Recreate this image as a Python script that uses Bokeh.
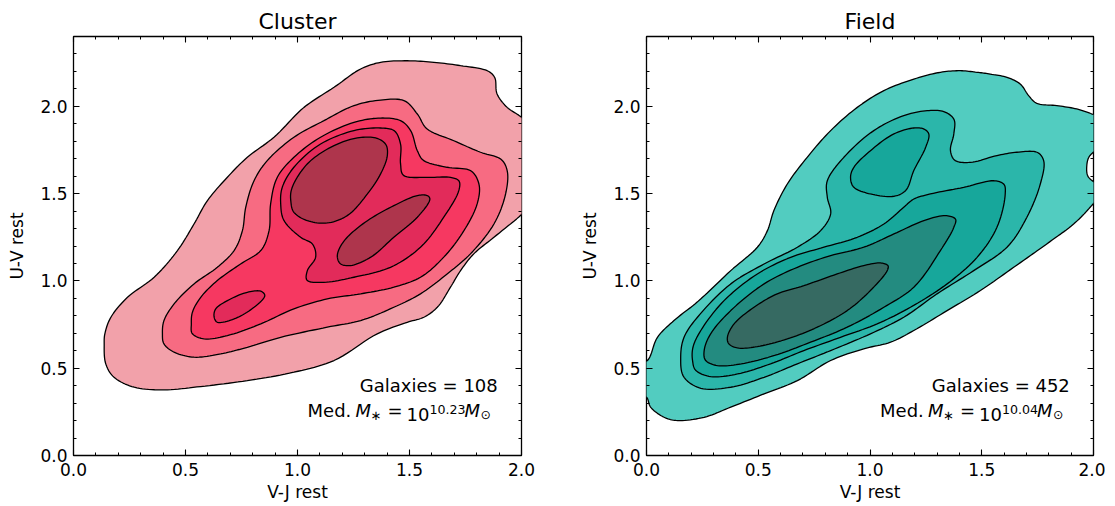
import numpy as np
from bokeh.plotting import figure
from bokeh.layouts import row
from bokeh.models import Label, LinearAxis, FixedTicker, Range1d
from bokeh.embed import file_html
from bokeh.resources import INLINE

# ---------------- data (V-J rest, U-V rest) ----------------
x_ticks = [0.0, 0.5, 1.0, 1.5, 2.0]
x_tick_labels = ["0.0", "0.5", "1.0", "1.5", "2.0"]
y_ticks = [0.0, 0.5, 1.0, 1.5, 2.0]
y_tick_labels = ["0.0", "0.5", "1.0", "1.5", "2.0"]

titles = ["Cluster", "Field"]
n_galaxies = [108, 452]
med_mass_exp = ["10.23", "10.04"]

# Cluster KDE contour outlines (lowest level first)
c1_x = [0.137, 0.144, 0.181, 0.271, 0.404, 0.568, 0.776, 0.984, 1.163, 1.356, 1.490, 1.564, 1.624, 1.683, 1.728, 1.787, 1.877, 2.0, 2.06, 2.06, 2.0, 1.936, 1.891, 1.880, 1.847, 1.728, 1.609, 1.490, 1.371, 1.282, 1.163, 1.029, 0.895, 0.776, 0.687, 0.598, 0.538, 0.464, 0.360, 0.241, 0.167, 0.140]
c1_y = [0.639, 0.525, 0.448, 0.391, 0.376, 0.395, 0.429, 0.477, 0.544, 0.697, 0.763, 0.792, 0.849, 0.964, 1.059, 1.155, 1.250, 1.380, 1.46, 1.85, 1.937, 1.994, 2.071, 2.166, 2.204, 2.233, 2.252, 2.261, 2.252, 2.214, 2.109, 1.994, 1.823, 1.708, 1.594, 1.460, 1.326, 1.174, 1.021, 0.906, 0.792, 0.697]

c2_x = [0.397, 0.404, 0.449, 0.538, 0.657, 0.776, 0.925, 1.133, 1.282, 1.430, 1.549, 1.668, 1.772, 1.877, 1.929, 1.936, 1.907, 1.817, 1.698, 1.579, 1.535, 1.475, 1.371, 1.252, 1.118, 0.984, 0.865, 0.806, 0.769, 0.754, 0.717, 0.642, 0.538, 0.449, 0.404]
c2_y = [0.697, 0.639, 0.592, 0.563, 0.582, 0.620, 0.677, 0.735, 0.773, 0.849, 0.926, 1.040, 1.155, 1.326, 1.498, 1.632, 1.698, 1.737, 1.803, 1.870, 1.956, 2.033, 2.036, 2.004, 1.918, 1.823, 1.689, 1.574, 1.422, 1.288, 1.174, 1.078, 0.983, 0.868, 0.773]

c3_x = [0.526, 0.531, 0.583, 0.687, 0.836, 0.984, 1.133, 1.282, 1.430, 1.549, 1.653, 1.743, 1.802, 1.810, 1.772, 1.668, 1.564, 1.535, 1.505, 1.460, 1.371, 1.252, 1.103, 0.984, 0.910, 0.880, 0.873, 0.836, 0.746, 0.642, 0.568, 0.531]
c3_y = [0.754, 0.697, 0.668, 0.687, 0.754, 0.840, 0.897, 0.926, 0.964, 1.021, 1.136, 1.288, 1.441, 1.555, 1.632, 1.651, 1.689, 1.746, 1.861, 1.918, 1.933, 1.908, 1.823, 1.708, 1.594, 1.441, 1.288, 1.174, 1.097, 1.002, 0.906, 0.821]

c4a_x = [0.925, 0.940, 1.014, 1.066, 1.081, 1.044, 1.044, 1.118, 1.252, 1.415, 1.549, 1.653, 1.720, 1.720, 1.683, 1.579, 1.475, 1.460, 1.460, 1.431, 1.371, 1.252, 1.103, 0.984, 0.932]
c4a_y = [1.441, 1.345, 1.250, 1.212, 1.136, 1.059, 1.002, 0.992, 1.021, 1.078, 1.193, 1.365, 1.517, 1.574, 1.593, 1.593, 1.603, 1.670, 1.784, 1.861, 1.876, 1.861, 1.784, 1.651, 1.536]

c4b_x = [0.628, 0.643, 0.717, 0.806, 0.854, 0.836, 0.776, 0.687, 0.635]
c4b_y = [0.792, 0.763, 0.782, 0.849, 0.916, 0.941, 0.935, 0.887, 0.840]

c5a_x = [0.970, 0.984, 1.044, 1.133, 1.222, 1.312, 1.371, 1.401, 1.393, 1.349, 1.267, 1.163, 1.059, 0.999, 0.972]
c5a_y = [1.460, 1.393, 1.345, 1.332, 1.374, 1.498, 1.613, 1.718, 1.784, 1.819, 1.819, 1.775, 1.689, 1.594, 1.517]

c5b_x = [1.178, 1.193, 1.237, 1.327, 1.430, 1.535, 1.591, 1.579, 1.535, 1.430, 1.312, 1.222, 1.186]
c5b_y = [1.136, 1.097, 1.088, 1.136, 1.250, 1.365, 1.469, 1.489, 1.489, 1.431, 1.345, 1.250, 1.183]

# Field KDE contour outlines (lowest level first)
f1_x = [-0.04, -0.04, 0.0, 0.019, 0.079, 0.139, 0.258, 0.377, 0.526, 0.675, 0.824, 0.972, 1.092, 1.196, 1.345, 1.494, 1.643, 1.791, 1.911, 1.985, 2.03, 2.01, 1.975, 1.970, 1.980, 2.01, 2.05, 2.05, 1.994, 1.925, 1.836, 1.747, 1.710, 1.672, 1.613, 1.538, 1.479, 1.404, 1.315, 1.196, 1.062, 0.943, 0.824, 0.719, 0.630, 0.570, 0.541, 0.496, 0.377, 0.228, 0.123, 0.049, 0.004]
f1_y = [0.52, 0.36, 0.334, 0.276, 0.219, 0.200, 0.219, 0.277, 0.353, 0.429, 0.544, 0.611, 0.649, 0.716, 0.830, 0.945, 1.078, 1.212, 1.326, 1.422, 1.50, 1.555, 1.60, 1.66, 1.71, 1.75, 1.80, 1.93, 1.956, 1.985, 2.004, 2.017, 2.061, 2.128, 2.166, 2.185, 2.195, 2.204, 2.195, 2.156, 2.090, 1.994, 1.861, 1.708, 1.555, 1.403, 1.288, 1.193, 1.059, 0.880, 0.773, 0.677, 0.544]

f2_x = [0.153, 0.168, 0.243, 0.377, 0.526, 0.675, 0.824, 1.002, 1.151, 1.300, 1.464, 1.613, 1.702, 1.762, 1.777, 1.747, 1.657, 1.568, 1.449, 1.382, 1.360, 1.375, 1.375, 1.330, 1.256, 1.151, 1.017, 0.883, 0.809, 0.809, 0.824, 0.779, 0.675, 0.526, 0.377, 0.228, 0.168]
f2_y = [0.563, 0.448, 0.385, 0.391, 0.448, 0.525, 0.601, 0.697, 0.792, 0.926, 1.059, 1.193, 1.365, 1.555, 1.689, 1.737, 1.737, 1.718, 1.679, 1.689, 1.746, 1.842, 1.927, 1.970, 1.975, 1.947, 1.861, 1.708, 1.574, 1.479, 1.384, 1.288, 1.193, 1.097, 0.983, 0.792, 0.677]

f3a_x = [0.206, 0.221, 0.287, 0.407, 0.555, 0.704, 0.868, 1.032, 1.181, 1.345, 1.479, 1.568, 1.605, 1.598, 1.553, 1.419, 1.270, 1.196, 1.151, 1.062, 0.943, 0.794, 0.645, 0.496, 0.347, 0.243, 0.208]
f3a_y = [0.544, 0.487, 0.452, 0.467, 0.525, 0.601, 0.677, 0.754, 0.849, 0.983, 1.135, 1.307, 1.498, 1.555, 1.574, 1.536, 1.498, 1.469, 1.422, 1.326, 1.250, 1.193, 1.135, 1.040, 0.887, 0.716, 0.620]

f3b_x = [0.913, 0.928, 1.002, 1.107, 1.159, 1.196, 1.249, 1.263, 1.241, 1.196, 1.107, 1.002, 0.928]
f3b_y = [1.594, 1.536, 1.498, 1.485, 1.517, 1.632, 1.765, 1.842, 1.870, 1.876, 1.842, 1.746, 1.651]

f4_x = [0.258, 0.265, 0.317, 0.424, 0.573, 0.734, 0.898, 1.062, 1.196, 1.315, 1.375, 1.382, 1.337, 1.241, 1.107, 0.972, 0.824, 0.675, 0.526, 0.377, 0.287]
f4_y = [0.601, 0.544, 0.515, 0.525, 0.573, 0.649, 0.735, 0.849, 0.964, 1.174, 1.307, 1.355, 1.374, 1.345, 1.269, 1.193, 1.145, 1.078, 0.983, 0.830, 0.697]

f5_x = [0.362, 0.369, 0.407, 0.496, 0.630, 0.764, 0.898, 1.002, 1.077, 1.080, 1.047, 0.972, 0.853, 0.704, 0.585, 0.481, 0.392]
f5_y = [0.677, 0.639, 0.616, 0.624, 0.668, 0.735, 0.830, 0.945, 1.059, 1.088, 1.103, 1.088, 1.040, 0.973, 0.926, 0.849, 0.754]

cluster_levels = [[(c1_x, c1_y)], [(c2_x, c2_y)], [(c3_x, c3_y)],
                  [(c4a_x, c4a_y), (c4b_x, c4b_y)], [(c5a_x, c5a_y), (c5b_x, c5b_y)]]
cluster_colors = ["#f2a1aa", "#f76b82", "#f63861", "#e22b5a", "#ae354c"]

field_levels = [[(f1_x, f1_y)], [(f2_x, f2_y)], [(f3a_x, f3a_y), (f3b_x, f3b_y)],
                [(f4_x, f4_y)], [(f5_x, f5_y)]]
field_colors = ["#52ccc0", "#2bb6aa", "#17a79b", "#238b80", "#366a62"]

FONT = "DejaVu Sans"


def smooth_closed(xs, ys, n=10):
    """Draw a closed outline as a smooth curve through the traced points."""
    P = np.column_stack([xs, ys]).astype(float)
    N = len(P)
    out = []
    for i in range(N):
        p0, p1, p2, p3 = P[(i - 1) % N], P[i], P[(i + 1) % N], P[(i + 2) % N]

        def tj(ti, a, b):
            return ti + np.linalg.norm(b - a) ** 0.5 + 1e-9
        t0 = 0.0
        t1 = tj(t0, p0, p1)
        t2 = tj(t1, p1, p2)
        t3 = tj(t2, p2, p3)
        t = np.linspace(t1, t2, n, endpoint=False)[:, None]
        A1 = (t1 - t) / (t1 - t0) * p0 + (t - t0) / (t1 - t0) * p1
        A2 = (t2 - t) / (t2 - t1) * p1 + (t - t1) / (t2 - t1) * p2
        A3 = (t3 - t) / (t3 - t2) * p2 + (t - t2) / (t3 - t2) * p3
        B1 = (t2 - t) / (t2 - t0) * A1 + (t - t0) / (t2 - t0) * A2
        B2 = (t3 - t) / (t3 - t1) * A2 + (t - t1) / (t3 - t1) * A3
        out.append((t2 - t) / (t2 - t1) * B1 + (t - t1) / (t2 - t1) * B2)
    C = np.vstack(out)
    return list(C[:, 0]), list(C[:, 1])


def make_panel(title, levels, colors, ngal, mexp, frame_w, border_right):
    p = figure(frame_width=frame_w, frame_height=419, x_range=Range1d(0, 2), y_range=Range1d(0, 2.4),
               output_backend="svg", toolbar_location=None, title=title,
               min_border_left=73, min_border_right=border_right,
               min_border_top=36, min_border_bottom=50)
    p.title.align = "center"
    p.title.text_font = FONT
    p.title.text_font_size = "22px"
    p.title.text_font_style = "normal"
    p.title.text_color = "black"
    p.title.standoff = 5
    p.grid.visible = False
    p.outline_line_color = "black"
    p.outline_line_width = 1.3
    p.background_fill_color = "white"
    p.border_fill_color = "white"

    for polys, col in zip(levels, colors):
        xs, ys = [], []
        for (px, py) in polys:
            sx, sy = smooth_closed(px, py)
            xs.append(sx)
            ys.append(sy)
        p.patches(xs, ys, fill_color=col, line_color="black", line_width=1.3)

    minor = [round(v * 0.1, 1) for v in range(0, 25)]
    xt = FixedTicker(ticks=x_ticks, minor_ticks=minor)
    yt = FixedTicker(ticks=y_ticks, minor_ticks=minor)

    p.add_layout(LinearAxis(), "above")
    p.add_layout(LinearAxis(), "right")
    for ax in p.axis:
        ax.axis_line_color = None
        ax.major_tick_in = 6
        ax.major_tick_out = 0
        ax.minor_tick_in = 3
        ax.minor_tick_out = 0
        ax.major_tick_line_color = "black"
        ax.minor_tick_line_color = "black"
        ax.major_tick_line_width = 1.1
        ax.minor_tick_line_width = 1.0
        ax.major_label_text_font = FONT
        ax.major_label_text_font_size = "17px"
        ax.major_label_text_color = "black"
        ax.axis_label_text_font = FONT
        ax.axis_label_text_font_size = "17px"
        ax.axis_label_text_font_style = "normal"
        ax.axis_label_text_color = "black"
    for ax in p.xaxis:
        ax.ticker = xt
        ax.major_label_overrides = dict(zip(x_ticks, x_tick_labels))
    for ax in p.yaxis:
        ax.ticker = yt
        ax.major_label_overrides = dict(zip(y_ticks, y_tick_labels))

    p.below[0].axis_label = "V-J rest"
    p.below[0].major_label_standoff = 7
    p.below[0].axis_label_standoff = 3
    p.left[0].axis_label = "U-V rest"
    p.left[0].major_label_standoff = 6
    p.left[0].axis_label_standoff = 10
    for ax in (p.above[-1], p.right[0]):
        ax.major_label_text_font_size = "1px"
        ax.major_label_text_color = None
        ax.major_label_text_alpha = 0
        ax.major_label_standoff = 0

    # annotation text
    p.add_layout(Label(x=1.894, y=0.343, text="Galaxies = %d" % ngal, text_align="right",
                       text_font=FONT, text_font_size="18px", text_color="black"))
    x0, y0 = 1.045, 0.195
    pieces = [  # text, x offset, y offset, size, style
        ("Med.", 0, 0, "18px", "normal"),
        ("M", 48, 0, "18px", "italic"),
        ("\u2217", 63, -2, "13px", "normal"),
        ("=", 80, 0, "18px", "normal"),
        ("10", 99, 0, "18px", "normal"),
        (mexp, 122, 7, "12.6px", "normal"),
        ("M", 157, 0, "18px", "italic"),
        ("\u2299", 173, -1, "12.6px", "normal"),
    ]
    for txt, dx, dy, fs, st in pieces:
        p.add_layout(Label(x=x0, y=y0, x_offset=dx, y_offset=dy, text=txt, text_align="left",
                           text_font=FONT, text_font_size=fs, text_font_style=st,
                           text_color="black"))
    return p


p1 = make_panel(titles[0], cluster_levels, cluster_colors, n_galaxies[0], med_mass_exp[0], 448, 52)
p2 = make_panel(titles[1], field_levels, field_colors, n_galaxies[1], med_mass_exp[1], 447, 12)

layout = row(p1, p2)
open("out.html", "w").write(file_html(layout, INLINE))
